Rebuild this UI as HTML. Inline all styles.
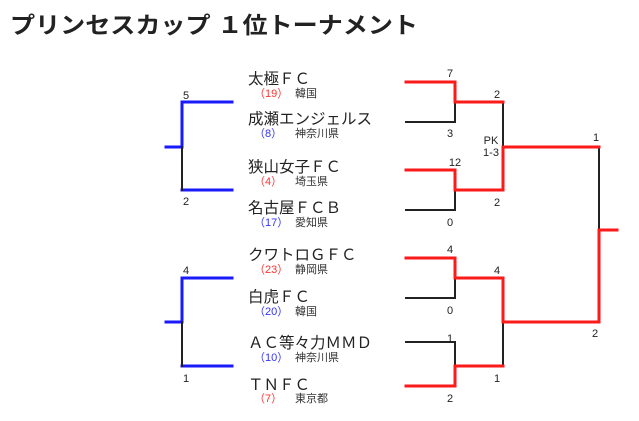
<!DOCTYPE html>
<html><head><meta charset="utf-8"><style>
html,body{margin:0;padding:0;background:#fff;}
svg{display:block;font-family:"Liberation Sans","Noto Sans CJK JP",sans-serif;}
</style></head><body>
<svg width="639" height="421" viewBox="0 0 639 421" xmlns="http://www.w3.org/2000/svg">
<text x="10" y="33" font-size="23" font-weight="bold" fill="#222" textLength="408" lengthAdjust="spacingAndGlyphs">プリンセスカップ １位トーナメント</text>

<g fill="none" stroke-width="3" stroke-linecap="square">
<!-- left blue brackets -->
<path d="M232 102H182V147M166 147H182M182 190H232" stroke="#1a1aff"/>
<path d="M182 147V190" stroke="#222" stroke-width="2"/>
<path d="M232 278H182V322M166 322H182M182 366H232" stroke="#1a1aff"/>
<path d="M182 322V366" stroke="#222" stroke-width="2"/>

<!-- right black -->
<g stroke="#222" stroke-width="2">
<path d="M406 122H455V102"/>
<path d="M406 210H455V190"/>
<path d="M503 102V147"/>
<path d="M599 147V230"/>
<path d="M406 298H455V278"/>
<path d="M406 342H455V366"/>
<path d="M503 322V366"/>
</g>
<!-- right red -->
<g stroke="#ff1a1a">
<path d="M406 82H455V102H503"/>
<path d="M406 170H455V190H503V147H599"/>
<path d="M617 230H599V322H503"/>
<path d="M406 258H455V278H503V322"/>
<path d="M406 386H455V366H503"/>
</g>
</g>

<g font-size="11" fill="#222" text-anchor="middle">
<text x="186" y="99">5</text>
<text x="186" y="205">2</text>
<text x="186" y="274">4</text>
<text x="186" y="382">1</text>
<text x="450" y="77">7</text>
<text x="450" y="137">3</text>
<text x="497" y="98">2</text>
<text x="455" y="166">12</text>
<text x="450" y="226">0</text>
<text x="497" y="206">2</text>
<text x="491" y="144">PK</text>
<text x="491" y="156">1-3</text>
<text x="596" y="141">1</text>
<text x="595" y="337">2</text>
<text x="450" y="253">4</text>
<text x="450" y="314">0</text>
<text x="497" y="274">4</text>
<text x="450" y="342">1</text>
<text x="450" y="402">2</text>
<text x="497" y="382">1</text>
</g>

<g font-size="15.5" fill="#222">
<text x="248" y="84">太極ＦＣ</text>
<text x="248" y="124">成瀬エンジェルス</text>
<text x="248" y="172">狭山女子ＦＣ</text>
<text x="248" y="213">名古屋ＦＣＢ</text>
<text x="248" y="260">クワトロＧＦＣ</text>
<text x="248" y="302">白虎ＦＣ</text>
<text x="248" y="348">ＡＣ等々力ＭＭＤ</text>
<text x="248" y="390">ＴＮＦＣ</text>
</g>
<g font-size="11">
<text x="254" y="97" fill="#ff3333">（19）</text><text x="295" y="97" fill="#333">韓国</text>
<text x="254" y="137" fill="#3333ff">（8）</text><text x="295" y="137" fill="#333">神奈川県</text>
<text x="254" y="185" fill="#ff3333">（4）</text><text x="295" y="185" fill="#333">埼玉県</text>
<text x="254" y="226" fill="#3333ff">（17）</text><text x="295" y="226" fill="#333">愛知県</text>
<text x="254" y="273" fill="#ff3333">（23）</text><text x="295" y="273" fill="#333">静岡県</text>
<text x="254" y="315" fill="#3333ff">（20）</text><text x="295" y="315" fill="#333">韓国</text>
<text x="254" y="361" fill="#3333ff">（10）</text><text x="295" y="361" fill="#333">神奈川県</text>
<text x="254" y="402" fill="#ff3333">（7）</text><text x="295" y="402" fill="#333">東京都</text>
</g>
</svg>
</body></html>
